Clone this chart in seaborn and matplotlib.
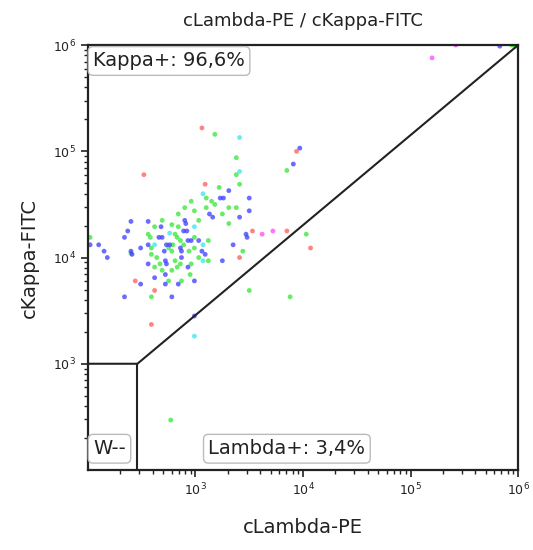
import numpy as np
import pandas as pd
import matplotlib
matplotlib.use('Agg')
import matplotlib.pyplot as plt
import seaborn as sns

# --- Data (log10 of fluorescence) ---
red_lx = [3.06, 2.52, 3.09, 3.94, 3.53, 3.85, 4.07, 3.41, 2.44, 2.62, 2.59]
red_ly = [5.22, 4.78, 4.69, 5.00, 4.25, 4.25, 4.09, 4.00, 3.78, 3.69, 3.37]

magenta_lx = [3.62, 3.72, 5.20, 5.42]
magenta_ly = [4.22, 4.25, 5.88, 6.00]

cyan_lx = [3.41, 3.41, 3.07, 2.99, 2.76, 2.62, 3.07, 3.07, 2.99]
cyan_ly = [5.13, 4.81, 4.60, 4.29, 4.23, 4.12, 4.12, 3.97, 3.26]

blue_lx = [3.97, 3.91, 3.31, 3.23, 3.26, 3.50, 3.50, 3.41, 3.13, 3.16,
           2.90, 2.91, 2.40, 2.56, 2.37, 2.34, 2.68, 2.89, 2.92, 2.66,
           2.69, 2.93, 2.96, 3.03, 3.47, 3.48, 2.02, 2.10, 2.15, 2.18,
           2.49, 2.56, 2.40, 2.41, 2.73, 2.76, 2.71, 2.86, 2.87, 3.06,
           3.09, 3.35, 3.25, 2.56, 2.72, 2.73, 2.87, 2.93, 2.62, 2.72,
           2.49, 2.72, 2.84, 2.99, 2.34, 2.78, 2.99, 5.83]
blue_ly = [5.03, 4.88, 4.63, 4.56, 4.56, 4.56, 4.44, 4.38, 4.41, 4.38,
           4.35, 4.32, 4.34, 4.34, 4.25, 4.19, 4.29, 4.25, 4.25, 4.19,
           4.19, 4.16, 4.16, 4.16, 4.22, 4.19, 4.12, 4.12, 4.06, 4.00,
           4.09, 4.12, 4.06, 4.03, 4.12, 4.12, 4.06, 4.09, 4.06, 4.06,
           4.03, 4.12, 3.97, 3.94, 3.97, 3.94, 4.00, 3.91, 3.81, 3.84,
           3.75, 3.75, 3.75, 3.78, 3.63, 3.63, 3.45, 5.99]

green_lx = [3.18, 3.38, 3.38, 3.85, 3.41, 3.22, 2.96, 3.10, 3.15, 3.18,
            3.10, 3.31, 3.38, 3.25, 2.90, 2.99, 2.84, 3.03, 3.31, 2.69,
            2.78, 2.84, 2.62, 2.56, 2.58, 2.81, 2.83, 2.99, 3.12, 2.02,
            4.03, 3.44, 2.86, 2.89, 2.79, 2.59, 2.59, 2.75, 2.78, 2.94,
            2.99, 3.03, 3.12, 2.64, 2.67, 2.62, 2.81, 2.83, 2.86, 2.96,
            2.95, 2.69, 2.78, 2.75, 2.87, 2.59, 3.50, 3.88, 2.40, 2.77,
            5.94, 5.96, 5.98, 6.00]
green_ly = [5.16, 4.94, 4.78, 4.82, 4.69, 4.66, 4.53, 4.56, 4.53, 4.50,
            4.47, 4.47, 4.47, 4.41, 4.47, 4.44, 4.41, 4.35, 4.32, 4.35,
            4.31, 4.29, 4.29, 4.22, 4.19, 4.22, 4.19, 4.19, 4.16, 4.19,
            4.22, 4.06, 4.16, 4.12, 4.12, 4.09, 4.03, 4.09, 4.06, 4.06,
            4.09, 4.00, 3.97, 4.00, 3.94, 3.91, 3.97, 3.91, 3.94, 3.94,
            3.84, 3.88, 3.88, 3.78, 3.78, 3.63, 3.69, 3.63, 4.04, 2.47,
            6.00, 6.00, 5.99, 6.00]

# gate vertices (log10)
gate_lx = [2.0, 2.46, 6.0]
gate_ly = [3.0, 3.0, 6.0]

pops = [('green', green_lx, green_ly), ('blue', blue_lx, blue_ly),
        ('cyan', cyan_lx, cyan_ly), ('red', red_lx, red_ly),
        ('magenta', magenta_lx, magenta_ly)]
rows = []
for name, lx, ly in pops:
    for a, b in zip(lx, ly):
        rows.append((name, 10 ** a, 10 ** b))
df = pd.DataFrame(rows, columns=['pop', 'lambda', 'kappa'])

palette = {'green': '#33e633', 'blue': '#3a3aff', 'cyan': '#33e6f0',
           'red': '#ff5a5a', 'magenta': '#ff44ff'}

# --- Plot ---
sns.set_style('ticks')
plt.rcParams['font.family'] = ['DejaVu Sans']

fig = plt.figure(figsize=(5.33, 5.5), dpi=100)
ax = fig.add_axes([0.165, 0.1455, 0.807, 0.7725])

sns.scatterplot(data=df, x='lambda', y='kappa', hue='pop', palette=palette,
                s=12, edgecolor='none', alpha=0.75, legend=False, ax=ax)

ax.set_xscale('log')
ax.set_yscale('log')
ax.set_xlim(1e2, 1e6)
ax.set_ylim(1e2, 1e6)

gx = [10 ** v for v in gate_lx]
gy = [10 ** v for v in gate_ly]
ax.plot(gx, gy, color='#222222', lw=1.5, clip_on=False)
ax.plot([gx[1], gx[1]], [1e2, gy[1]], color='#222222', lw=1.5)

ax.set_xticks([1e3, 1e4, 1e5, 1e6])
ax.set_yticks([1e3, 1e4, 1e5, 1e6])
ax.tick_params(which='major', length=5, width=1.2, labelsize=9, colors='#222222')
ax.tick_params(which='minor', length=3, width=1.0, colors='#222222')
for sp in ax.spines.values():
    sp.set_linewidth(1.6)
    sp.set_color('#222222')

ax.set_title('cLambda-PE / cKappa-FITC', fontsize=13, pad=14, color='#222222')
ax.set_xlabel('cLambda-PE', fontsize=14, labelpad=14, color='#222222')
ax.set_ylabel('cKappa-FITC', fontsize=14, labelpad=10, color='#222222')

box = dict(boxstyle='round,pad=0.25', fc='white', ec='#bbbbbb', lw=1)
ax.text(0.012, 0.985, 'Kappa+: 96,6%', transform=ax.transAxes, fontsize=14,
        va='top', ha='left', bbox=box, color='#222222')
ax.text(0.28, 0.05, 'Lambda+: 3,4%', transform=ax.transAxes, fontsize=14,
        va='center', ha='left', bbox=box, color='#222222')
ax.text(0.012, 0.05, 'W--', transform=ax.transAxes, fontsize=14,
        va='center', ha='left', bbox=box, color='#222222')

fig.savefig('out.png', dpi=100)
